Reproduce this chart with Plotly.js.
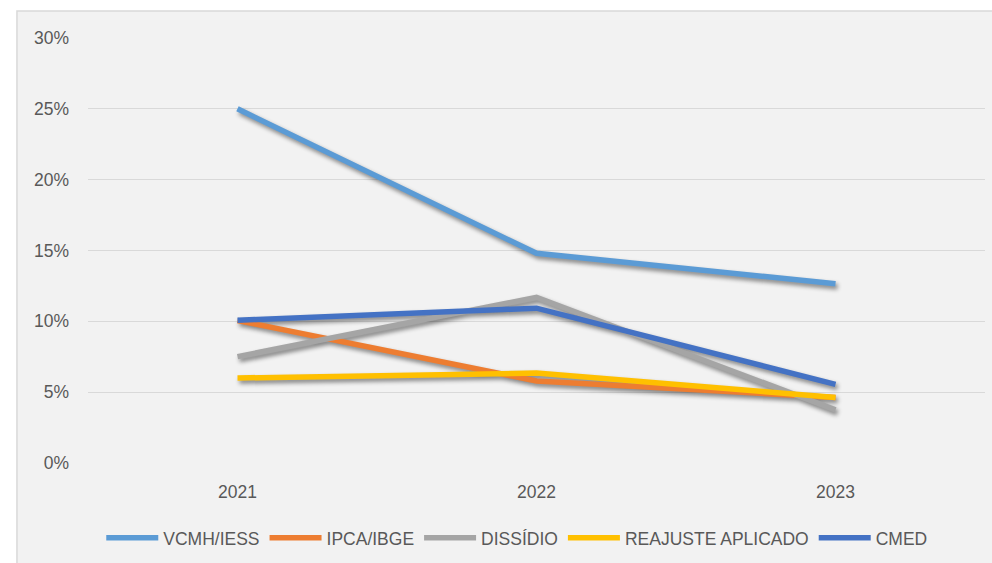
<!DOCTYPE html>
<html><head><meta charset="utf-8">
<script src="https://cdn.plot.ly/plotly-3.0.1.min.js"></script>
<style>
html,body{margin:0;padding:0;background:#fff;}
#chart{width:992px;height:563px;}
#chart .scatterlayer{filter:drop-shadow(2px 3px 2px rgba(0,0,0,0.45));}
</style></head>
<body><div id="chart"></div>
<script>
const years = ['2021','2022','2023'];
const seriesNames = ['VCMH/IESS','IPCA/IBGE','DISSÍDIO','REAJUSTE APLICADO','CMED'];
const vcmh = [0.250, 0.148, 0.1266];
const ipca = [0.1006, 0.0579, 0.0462];
const dissidio = [0.0751, 0.117, 0.0375];
const reajuste = [0.060, 0.0635, 0.0463];
const cmed = [0.1008, 0.1093, 0.0555];
const colors = ['#5b9bd5','#ed7d31','#a5a5a5','#ffc000','#4472c4'];
const allSeries = [vcmh, ipca, dissidio, reajuste, cmed];

const traces = allSeries.map((vals,i)=>({
  x: years, y: vals, name: seriesNames[i], type:'scatter', mode:'lines',
  line:{color:colors[i], width:5.5}, hoverinfo:'skip'
}));

const font = {family:'"Liberation Sans", Arial, sans-serif', size:17.5, color:'#595959'};
const layout = {
  width:992, height:563,
  margin:{l:88, r:7, t:38, b:100},
  paper_bgcolor:'#ffffff', plot_bgcolor:'rgba(0,0,0,0)',
  font: font,
  showlegend:true,
  legend:{orientation:'h', x:0.478, xanchor:'center', y:-0.176, yanchor:'middle',
    font:font, bgcolor:'rgba(0,0,0,0)', itemwidth:52, traceorder:'normal'},
  xaxis:{type:'category', range:[-0.5,2.5], showgrid:false, zeroline:false, showline:false,
    ticks:'', tickfont:font, ticklabelstandoff:16},
  yaxis:{range:[0,0.3], dtick:0.05, tickformat:'.0%', showgrid:true, gridcolor:'#d9d9d9', gridwidth:1.3,
    zeroline:false, showline:false, ticks:'', tickfont:font, ticklabelstandoff:18},
  shapes:[{type:'rect', xref:'paper', yref:'paper', x0:-0.0792, x1:1.02, y0:-0.3, y1:1.0635,
    fillcolor:'#f2f2f2', line:{color:'#d9d9d9', width:1.5}, layer:'below'}]
};
Plotly.newPlot('chart', traces, layout, {displayModeBar:false, staticPlot:true});
</script></body></html>
